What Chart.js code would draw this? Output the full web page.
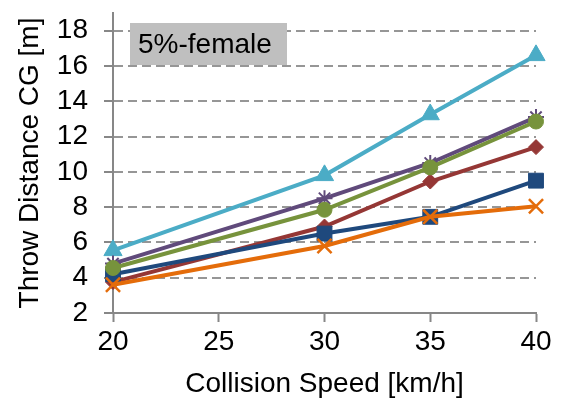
<!DOCTYPE html>
<html>
<head>
<meta charset="utf-8">
<script src="https://cdn.jsdelivr.net/npm/chart.js@4/dist/chart.umd.min.js"></script>
<style>
  html, body { margin: 0; padding: 0; background: #fff; }
  #wrap { width: 566px; height: 409px; }
</style>
</head>
<body>
<div id="wrap"><canvas id="c" width="566" height="409"></canvas></div>
<script>
// throw distance of the centre of gravity vs collision speed, 5%-female dummy

const speeds = [20, 30, 35, 40];
const xTicks = [20, 25, 30, 35, 40];
const yTicks = [2, 4, 6, 8, 10, 12, 14, 16, 18];

// listed top-most first (Chart.js draws the first dataset last)
const seriesOrange = [3.6, 5.8, 7.45, 8.05];
const seriesGreen = [4.55, 7.85, 10.25, 12.85];
const seriesBlue = [4.2, 6.5, 7.45, 9.5];
const seriesRed = [3.75, 6.9, 9.45, 11.4];
const seriesPurple = [4.8, 8.5, 10.5, 13.1];
const seriesCyan = [5.55, 9.8, 13.25, 16.6];

const panelLabel = '5%-female';

const FONT = 'Liberation Sans, Arial, sans-serif';
const AXIS = '#878787';

function pts(vals) {
  return vals.map((v, i) => ({ x: speeds[i], y: v }));
}

function series(label, vals, colour, style, radius, borderWidth) {
  return {
    label,
    data: pts(vals),
    borderColor: colour,
    backgroundColor: colour,
    pointBackgroundColor: colour,
    pointBorderColor: colour,
    pointStyle: style,
    pointRadius: radius,
    pointHoverRadius: radius,
    pointBorderWidth: borderWidth,
    borderWidth: 4,
    tension: 0,
    clip: false,
  };
}

const datasets = [
  series('orange', seriesOrange, '#E46C0A', 'crossRot', 10, 2.5),
  series('green', seriesGreen, '#77933C', 'circle', 7.5, 1),
  series('blue', seriesBlue, '#1F497D', 'rect', 10.5, 1),
  series('red', seriesRed, '#953735', 'rectRot', 7.5, 1),
  series('purple', seriesPurple, '#604A7B', 'star', 8, 2),
  series('cyan', seriesCyan, '#4BACC6', 'triangle', 10.5, 1),
];

// grey box with the dummy name, upper left of the plot
const labelBox = {
  id: 'labelBox',
  afterDatasetsDraw(chart) {
    const { ctx, chartArea } = chart;
    const x = chartArea.left + 17, y = 23, w = 157, h = 42;
    ctx.save();
    ctx.fillStyle = '#BFBFBF';
    ctx.fillRect(x, y, w, h);
    ctx.fillStyle = '#000';
    ctx.font = '28px ' + FONT;
    ctx.textBaseline = 'middle';
    ctx.textAlign = 'left';
    ctx.fillText(panelLabel, x + 8, y + h / 2 + 1);
    ctx.restore();
  },
};

new Chart(document.getElementById('c'), {
  type: 'line',
  data: { datasets },
  plugins: [labelBox],
  options: {
    responsive: false,
    animation: false,
    devicePixelRatio: 1,
    parsing: false,
    layout: { padding: { top: 13, right: 30, left: 0, bottom: 0 } },
    plugins: {
      legend: { display: false },
      tooltip: { enabled: false },
    },
    scales: {
      x: {
        type: 'linear',
        min: 20,
        max: 40,
        afterBuildTicks: (s) => { s.ticks = xTicks.map((v) => ({ value: v })); },
        afterFit: (s) => { s.height = 96; s.paddingLeft = 0; s.paddingRight = 0; },
        ticks: { color: '#000', font: { family: FONT, size: 28 }, padding: 3, maxRotation: 0, autoSkip: false },
        grid: { drawOnChartArea: false, drawTicks: true, tickLength: 9, tickColor: AXIS, tickWidth: 2 },
        border: { color: AXIS, width: 2 },
        title: {
          display: true,
          text: 'Collision Speed [km/h]',
          color: '#000',
          font: { family: FONT, size: 28 },
          padding: { top: 0, bottom: 8 },
        },
      },
      y: {
        min: 2,
        max: 19,
        afterBuildTicks: (s) => { s.ticks = yTicks.map((v) => ({ value: v })); },
        afterFit: (s) => { s.width = 113; s.paddingTop = 0; s.paddingBottom = 0; },
        ticks: { color: '#000', font: { family: FONT, size: 28 }, padding: 16, autoSkip: false },
        grid: {
          color: '#969696',
          lineWidth: 2,
          tickLength: 9,
          tickColor: AXIS,
          tickWidth: 2,
          tickBorderDash: [],
        },
        border: { color: AXIS, width: 2, dash: [9, 5] },
        title: {
          display: true,
          text: 'Throw Distance CG [m]',
          color: '#000',
          font: { family: FONT, size: 28 },
          padding: { top: 13, bottom: 0 },
        },
      },
    },
  },
});
</script>
</body>
</html>
